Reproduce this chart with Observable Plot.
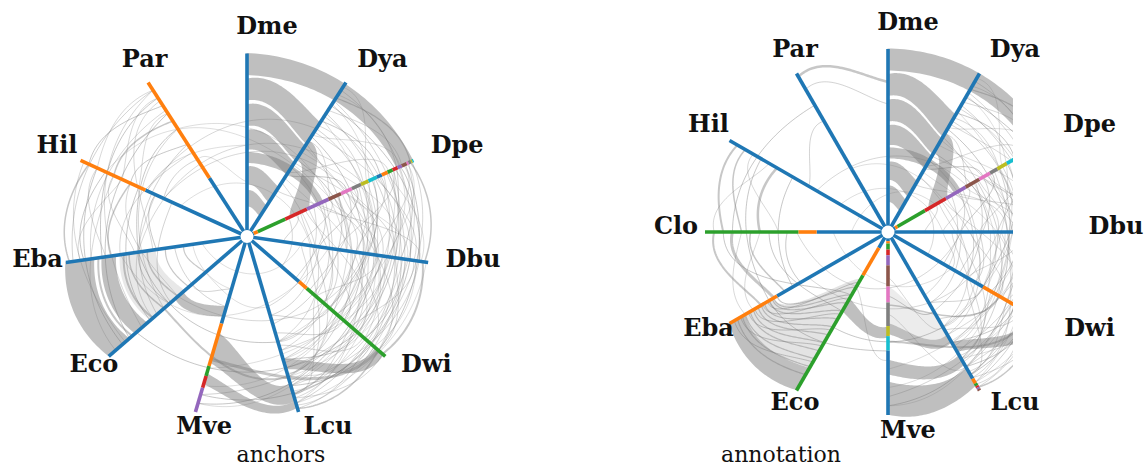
<!DOCTYPE html>
<html><head><meta charset="utf-8">
<script src="https://cdn.jsdelivr.net/npm/d3@7"></script>
<script src="https://cdn.jsdelivr.net/npm/@observablehq/plot@0.6"></script>
<style>
body{margin:0;background:#fff;}
#wrap{display:flex;width:1147px;height:470px;overflow:hidden;}
.panel{position:relative;}
.cap{font-family:"DejaVu Serif",serif;font-size:22px;line-height:24px;text-align:center;color:#111;}
</style></head><body><div id="wrap"></div>
<script>
const tab10 = ["#1f77b4","#ff7f0e","#2ca02c","#d62728","#9467bd","#8c564b","#e377c2","#7f7f7f","#bcbd22","#17becf"];

// axis order (clockwise from top)
const axesL = ["Dme","Dya","Dpe","Dbu","Dwi","Lcu","Mve","Eco","Eba","Hil","Par"];
const axesR = ["Dme","Dya","Dpe","Dbu","Dwi","Lcu","Mve","Eco","Eba","Clo","Hil","Par"];
const captions = ["anchors","annotation"];

// colour-segment boundaries along each axis (0 = hub, 1 = tip); colours cycle through tab10
const breaksL = [
  ["Dme",[0,1]], ["Dya",[0,1]],
  ["Dpe",[0,0.04,0.065,0.23,0.36,0.49,0.565,0.63,0.685,0.73,0.78,0.81,0.845,0.875,0.905,0.93,0.96,0.97,0.985,0.993,1]],
  ["Dbu",[0,1]], ["Dwi",[0,0.376,0.432,1]], ["Lcu",[0,1]],
  ["Mve",[0,0.495,0.737,0.794,0.861,1]],
  ["Eco",[0,1]], ["Eba",[0,1]], ["Hil",[0,0.61,1]], ["Par",[0,0.38,1]]
];
const breaksR = [
  ["Dme",[0,1]], ["Dya",[0,1]],
  ["Dpe",[0,0.045,0.06,0.233,0.366,0.49,0.576,0.644,0.69,0.75,0.8,0.83,0.86,0.89,0.915,0.94,0.96,0.975,0.988,0.995,1]],
  ["Dbu",[0,1]], ["Dwi",[0,0.6,1]],
  ["Lcu",[0,0.925,0.955,0.97,0.98,0.99,1]],
  ["Mve",[0,0.05,0.063,0.096,0.127,0.182,0.298,0.385,0.514,0.569,0.648,1]],
  ["Eco",[0,0.1,0.274,1]], ["Eba",[0,0.7,1]], ["Clo",[0,0.39,0.49,1]],
  ["Hil",[0,1]], ["Par",[0,1]]
];

// wide ribbons: [source axis, from, to, target axis, from, to, opacity]
const topRibbons = [
  ["Dme",0.88,1.0,"Dpe",0.9,1.0,0.5],["Dme",0.74,0.86,"Dya",0.6,0.74,0.5],
  ["Dme",0.6,0.72,"Dya",0.49,0.59,0.5],["Dme",0.47,0.58,"Dya",0.4,0.48,0.5],
  ["Dme",0.4,0.46,"Dpe",0.42,0.46,0.5],["Dya",0.5,0.62,"Dpe",0.26,0.38,0.5],
  ["Dme",0.28,0.38,"Dya",0.22,0.32,0.5],["Dme",0.16,0.25,"Dya",0.13,0.2,0.5]
];
const ribbonsL = [...topRibbons,
  ["Eba",0.84,1.0,"Eco",0.85,1.0,0.5],["Eba",0.72,0.8,"Eco",0.72,0.81,0.5],
  ["Mve",0.55,0.72,"Lcu",0.84,0.94,0.5],["Eco",0.46,0.52,"Mve",0.4,0.46,0.5],
  ["Mve",0.78,0.84,"Lcu",0.94,0.98,0.5],["Dwi",0.93,0.99,"Lcu",0.7,0.76,0.5],
  ["Eba",0.5,0.7,"Eco",0.45,0.7,0.18]
];
const ribbonsR = [...topRibbons,
  ["Eba",0.9,1.0,"Eco",0.86,1.0,0.5],["Mve",0.82,1.0,"Lcu",0.86,0.97,0.5],
  ["Mve",0.7,0.78,"Lcu",0.78,0.84,0.5],["Eco",0.42,0.5,"Mve",0.52,0.58,0.5],
  ["Mve",0.5,0.56,"Lcu",0.65,0.7,0.5],["Dwi",0.9,0.98,"Lcu",0.7,0.76,0.5],
  ["Eba",0.72,0.9,"Eco",0.3,0.86,0.22],["Mve",0.3,0.5,"Lcu",0.5,0.65,0.15]
];

// thin links: [source axis, position, target axis, position, weight]
const eastLinks = [
  ["Dya",0.9,"Dpe",0.98,1.2],["Dya",0.85,"Dbu",0.95,1],["Dya",0.8,"Dwi",0.9,0.8],
  ["Dya",0.75,"Dpe",0.8,1],["Dya",0.7,"Dbu",0.7,0.8],["Dya",0.65,"Dwi",0.7,1],
  ["Dya",0.6,"Lcu",0.8,0.8],["Dya",0.5,"Dbu",0.55,1],["Dya",0.45,"Dwi",0.5,0.8],
  ["Dya",0.4,"Dpe",0.6,1],["Dya",0.35,"Lcu",0.6,0.7],["Dpe",0.98,"Dbu",0.98,1.5],
  ["Dpe",0.95,"Dwi",0.95,1],["Dpe",0.92,"Dbu",0.85,1],["Dpe",0.88,"Lcu",0.95,0.8],
  ["Dpe",0.85,"Dwi",0.8,1],["Dpe",0.8,"Dbu",0.6,0.8],["Dpe",0.75,"Dwi",0.6,1],
  ["Dpe",0.7,"Lcu",0.7,0.8],["Dpe",0.65,"Dbu",0.4,1],["Dpe",0.6,"Dwi",0.45,0.8],
  ["Dpe",0.55,"Lcu",0.5,0.8],["Dpe",0.5,"Dbu",0.3,0.7],["Dpe",0.45,"Dwi",0.35,0.8],
  ["Dpe",0.4,"Lcu",0.4,0.7],["Dpe",0.3,"Dbu",0.2,0.8],["Dpe",0.25,"Dwi",0.25,0.7],
  ["Dbu",0.97,"Dwi",0.98,2],["Dbu",0.9,"Lcu",0.9,1],["Dbu",0.85,"Dwi",0.85,1],
  ["Dbu",0.8,"Lcu",0.75,0.8],["Dbu",0.7,"Dwi",0.65,1],["Dbu",0.6,"Lcu",0.6,0.8],
  ["Dbu",0.5,"Dwi",0.55,0.8],["Dbu",0.4,"Lcu",0.45,0.8],["Dbu",0.3,"Dwi",0.4,0.7],
  ["Dwi",0.95,"Lcu",0.98,1.5],["Dwi",0.9,"Lcu",0.85,1],["Dwi",0.8,"Lcu",0.7,1],
  ["Dwi",0.7,"Lcu",0.55,0.8],["Dwi",0.6,"Lcu",0.45,0.8],
  ["Dpe",0.9,"Mve",0.9,0.8],["Dbu",0.75,"Mve",0.95,1],["Dya",0.95,"Dbu",0.9,0.8],
  ["Dpe",0.97,"Lcu",0.9,0.7],["Dya",0.88,"Dwi",0.95,0.7],["Dpe",0.35,"Dwi",0.8,0.7],
  ["Dya",0.92,"Dpe",0.9,0.7],["Dya",0.82,"Dpe",0.93,0.7],["Dya",0.78,"Dbu",0.82,0.7],
  ["Dya",0.72,"Dpe",0.7,0.7],["Dya",0.68,"Dbu",0.9,0.7],["Dya",0.62,"Dpe",0.5,0.7],
  ["Dya",0.58,"Dwi",0.85,0.7],["Dya",0.48,"Dbu",0.75,0.7],["Dya",0.42,"Dpe",0.85,0.7],
  ["Dya",0.3,"Dbu",0.65,0.7],["Dpe",0.99,"Dwi",0.9,0.7],["Dpe",0.94,"Dbu",0.7,0.7],
  ["Dpe",0.86,"Dbu",0.5,0.7],["Dpe",0.82,"Lcu",0.85,0.7],["Dpe",0.78,"Dbu",0.92,0.7],
  ["Dpe",0.72,"Dwi",0.72,0.7],["Dpe",0.67,"Lcu",0.9,0.7],["Dpe",0.62,"Dbu",0.8,0.7],
  ["Dpe",0.57,"Dwi",0.95,0.7],["Dpe",0.52,"Dbu",0.6,0.7],["Dpe",0.47,"Lcu",0.65,0.7],
  ["Dpe",0.42,"Dbu",0.95,0.7],["Dpe",0.37,"Dwi",0.55,0.7],["Dpe",0.32,"Lcu",0.8,0.7],
  ["Dbu",0.95,"Lcu",0.85,0.7],["Dbu",0.92,"Dwi",0.75,0.7],["Dbu",0.88,"Lcu",0.98,0.7],
  ["Dbu",0.82,"Dwi",0.95,0.7],["Dbu",0.78,"Lcu",0.65,0.7],["Dbu",0.72,"Dwi",0.5,0.7],
  ["Dbu",0.66,"Lcu",0.92,0.7],["Dbu",0.62,"Dwi",0.88,0.7],["Dbu",0.56,"Lcu",0.72,0.7],
  ["Dbu",0.45,"Dwi",0.7,0.7],["Dbu",0.35,"Lcu",0.82,0.7],["Dwi",0.98,"Lcu",0.92,0.7],
  ["Dwi",0.88,"Lcu",0.96,0.7],["Dwi",0.84,"Lcu",0.62,0.7],["Dwi",0.75,"Lcu",0.88,0.7],
  ["Dwi",0.65,"Lcu",0.78,0.7],["Dwi",0.55,"Lcu",0.6,0.7],["Dwi",0.5,"Lcu",0.9,0.7],
  ["Dpe",0.88,"Mve",0.75,0.6],["Dbu",0.68,"Mve",0.85,0.6],["Dwi",0.78,"Mve",0.95,0.6],
  ["Dya",0.97,"Dpe",0.72,0.6],["Dya",0.86,"Dwi",0.6,0.6],["Dya",0.76,"Lcu",0.95,0.6],
  ["Dya",0.66,"Dpe",0.92,0.6],["Dya",0.55,"Dbu",0.85,0.6],["Dya",0.38,"Dwi",0.75,0.6],
  ["Dpe",0.96,"Dbu",0.78,0.6],["Dpe",0.91,"Dwi",0.68,0.6],["Dpe",0.84,"Dbu",0.96,0.6],
  ["Dpe",0.76,"Lcu",0.6,0.6],["Dpe",0.69,"Dbu",0.66,0.6],["Dpe",0.64,"Dwi",0.82,0.6],
  ["Dpe",0.59,"Dbu",0.88,0.6],["Dpe",0.54,"Dwi",0.62,0.6],["Dpe",0.49,"Dbu",0.72,0.6],
  ["Dbu",0.99,"Lcu",0.95,0.6],["Dbu",0.93,"Dwi",0.92,0.6],["Dbu",0.86,"Lcu",0.8,0.6],
  ["Dbu",0.76,"Dwi",0.8,0.6],["Dbu",0.64,"Lcu",0.7,0.6],["Dwi",0.92,"Lcu",0.8,0.6]
];
const westLinksL = [
  ["Mve",0.7,"Dwi",0.95,3],["Eco",0.6,"Lcu",0.8,2],["Eba",0.6,"Lcu",0.6,1],
  ["Eco",0.8,"Dwi",0.8,1],["Mve",0.9,"Dwi",0.9,1],
  ["Eba",0.82,"Eco",0.83,2],["Eba",0.68,"Eco",0.68,2],
  ["Eba",0.65,"Eco",0.6,1.5],["Eba",0.55,"Eco",0.5,1.5],["Eba",0.6,"Eco",0.56,1],
  ["Eba",0.45,"Eco",0.42,1.2],["Eba",0.35,"Eco",0.3,1.2],["Eba",0.98,"Hil",0.95,1.5],
  ["Eba",0.9,"Hil",0.85,1],["Eba",0.8,"Par",0.9,1],["Eba",0.75,"Hil",0.7,1.5],
  ["Eba",0.6,"Par",0.7,1],["Eba",0.5,"Hil",0.55,1],["Eco",0.9,"Hil",0.9,1],
  ["Eco",0.85,"Par",0.8,1],["Eco",0.7,"Hil",0.65,1],["Eco",0.65,"Par",0.6,0.8],
  ["Eco",0.55,"Hil",0.45,0.8],["Hil",0.95,"Par",0.85,1],["Hil",0.8,"Par",0.75,1.5],
  ["Hil",0.7,"Par",0.6,1],["Hil",0.5,"Par",0.5,0.8],["Eba",0.4,"Mve",0.4,0.8],
  ["Eco",0.4,"Mve",0.3,0.8],["Hil",0.6,"Dme",0.5,0.6],["Par",0.5,"Dme",0.3,0.6],
  ["Hil",0.85,"Dpe",0.5,0.6],["Eba",0.7,"Dbu",0.45,0.6],["Dya",0.7,"Hil",0.6,0.7],
  ["Dpe",0.6,"Hil",0.5,0.7],["Dbu",0.55,"Par",0.7,0.6],["Dbu",0.65,"Eco",0.5,0.7],
  ["Dpe",0.7,"Eba",0.6,0.7],["Eba",0.96,"Par",0.95,0.8],["Eba",0.92,"Hil",0.75,0.7],
  ["Eba",0.86,"Par",0.82,0.7],["Eba",0.78,"Hil",0.9,0.7],["Eba",0.7,"Par",0.55,0.7],
  ["Eba",0.62,"Hil",0.8,0.7],["Eba",0.52,"Par",0.88,0.7],["Eco",0.95,"Hil",0.8,0.7],
  ["Eco",0.88,"Hil",0.98,0.7],["Eco",0.76,"Par",0.95,0.7],["Eco",0.68,"Hil",0.55,0.7],
  ["Eco",0.6,"Par",0.7,0.7],["Eco",0.5,"Hil",0.7,0.7],["Hil",0.9,"Par",0.95,0.7],
  ["Hil",0.75,"Par",0.9,0.7],["Hil",0.65,"Par",0.8,0.7],["Eba",0.3,"Mve",0.3,0.6],
  ["Eco",0.3,"Lcu",0.4,0.6],["Eba",0.25,"Dbu",0.3,0.6],["Hil",0.4,"Dbu",0.35,0.6]
];
const westLinksR = [
  ["Par",0.98,"Dme",0.82,2.5],["Par",0.9,"Dme",0.7,0.8],
  ["Hil",0.95,"Clo",0.9,2],["Hil",0.9,"Clo",0.8,1.5],["Hil",0.8,"Eba",0.75,1],
  ["Hil",0.7,"Clo",0.7,2.5],["Hil",0.6,"Eba",0.6,1],["Par",0.8,"Clo",0.85,1],
  ["Par",0.7,"Hil",0.5,0.8],["Clo",0.95,"Eba",0.8,2],["Clo",0.85,"Eba",0.72,3],
  ["Clo",0.75,"Eba",0.65,1.5],["Clo",0.65,"Eco",0.5,1],["Clo",0.55,"Eba",0.55,1],
  ["Clo",0.9,"Eco",0.4,1],
  ["Eba",0.95,"Eco",0.9,1.2],["Eba",0.92,"Eco",0.85,1.2],["Eba",0.9,"Eco",0.8,1.2],
  ["Eba",0.87,"Eco",0.75,1.2],["Eba",0.85,"Eco",0.7,1.2],["Eba",0.82,"Eco",0.65,1.2],
  ["Eba",0.8,"Eco",0.6,1.2],["Eba",0.78,"Eco",0.55,1.2],["Eba",0.75,"Eco",0.5,1.2],
  ["Eba",0.73,"Eco",0.45,1.2],["Eba",0.72,"Eco",0.4,1.2],["Eba",0.7,"Eco",0.35,1.2],
  ["Eba",0.97,"Eco",0.82,1],["Eba",0.93,"Eco",0.72,1],["Eba",0.88,"Eco",0.62,1],
  ["Eba",0.84,"Eco",0.52,1],["Eba",0.79,"Eco",0.42,1],["Eba",0.76,"Eco",0.32,1],
  ["Mve",0.6,"Dwi",0.9,2],["Mve",0.4,"Dwi",0.7,1.5],
  ["Eba",0.75,"Mve",0.65,1],["Eco",0.6,"Lcu",0.6,1],
  ["Mve",0.35,"Lcu",0.5,1],["Clo",0.5,"Dbu",0.4,0.7],["Hil",0.45,"Dpe",0.5,0.7],
  ["Eba",0.5,"Dbu",0.6,0.7],["Clo",0.3,"Dwi",0.4,0.6],["Hil",0.3,"Dbu",0.3,0.6],
  ["Par",0.4,"Dpe",0.35,0.6],["Clo",0.2,"Dpe",0.3,0.6],["Hil",0.85,"Clo",0.6,0.7],
  ["Hil",0.75,"Clo",0.95,0.7],["Clo",0.8,"Eba",0.9,0.7],["Clo",0.7,"Eba",0.85,0.7],
  ["Mve",0.25,"Lcu",0.6,0.7],["Mve",0.45,"Lcu",0.85,0.7],["Eco",0.35,"Mve",0.7,0.7]
];
const linksL = [...eastLinks, ...westLinksL];
const linksR = [...eastLinks, ...westLinksR];

const unit = 183;          // pixels per unit radius
const labelR = 204/unit;

function angleOf(axes, name) { return (90 - axes.indexOf(name) * 360 / axes.length) * Math.PI / 180; }
function polar(r, a) { return [r * Math.cos(a), r * Math.sin(a)]; }
const N = 48;
function curve(axes, s, r1, t, r2) {
  const a1 = angleOf(axes, s), a2 = angleOf(axes, t);
  let d = a2 - a1;
  while (d > Math.PI) d -= 2 * Math.PI;
  while (d <= -Math.PI) d += 2 * Math.PI;
  const k = 1.06;
  const P0 = polar(r1, a1), P1 = polar(r1 * k, a1 + d / 3),
        P2 = polar(r2 * k, a2 - d / 3), P3 = polar(r2, a2);
  const out = [];
  for (let i = 0; i <= N; i++) {
    const u = i / N, v = 1 - u;
    const b0 = v*v*v, b1 = 3*v*v*u, b2 = 3*v*u*u, b3 = u*u*u;
    out.push([b0*P0[0] + b1*P1[0] + b2*P2[0] + b3*P3[0], b0*P0[1] + b1*P1[1] + b2*P2[1] + b3*P3[1]]);
  }
  return out;
}
function linkPoints(axes, links) {
  const pts = [];
  links.forEach(([s, r1, t, r2, w], id) => {
    curve(axes, s, r1, t, r2).forEach(([x, y]) => pts.push({id, w, x, y}));
  });
  return pts;
}
function ribbonPoints(axes, ribbons) {
  const pts = [];
  ribbons.forEach(([s, a, b, t, c, e, o], id) => {
    const A = curve(axes, s, a, t, c), B = curve(axes, s, b, t, e);
    A.forEach((p, i) => pts.push({id, o, x1: p[0], y1: p[1], x2: B[i][0], y2: B[i][1]}));
  });
  return pts;
}
function segments(axes, breaks) {
  const segs = [];
  breaks.forEach(([name, b]) => {
    const a = angleOf(axes, name);
    for (let i = 0; i < b.length - 1; i++) {
      const [x1, y1] = polar(b[i], a), [x2, y2] = polar(b[i+1], a);
      segs.push({x1, y1, x2, y2, color: tab10[i % 10]});
    }
  });
  return segs;
}
function labels(axes) {
  return axes.map(name => {
    const a = angleOf(axes, name), c = Math.cos(a);
    const eps = 20 + 16*c - 12*c*c;
    return {name, x: labelR*Math.cos(a) + eps/unit, y: labelR*Math.sin(a) + 6/unit};
  });
}

function panel(axes, breaks, ribbons, links, W, H, cx, cy, clipRight) {
  const clip = clipRight != null;
  const mr = clip ? W - clipRight : 0;
  return Plot.plot({
    width: W, height: H, marginTop: 0, marginLeft: 0, marginBottom: 0, marginRight: mr,
    x: {domain: [-cx/unit, ((clip ? clipRight : W) - cx)/unit], axis: null},
    y: {domain: [(cy - H)/unit, cy/unit], axis: null},
    color: {type: "identity"},
    opacity: {type: "identity"},
    marks: [
      Plot.area(ribbonPoints(axes, ribbons), {x1: "x1", y1: "y1", x2: "x2", y2: "y2", z: "id",
        fill: "#808080", fillOpacity: "o", clip}),
      Plot.line(linkPoints(axes, links), {x: "x", y: "y", z: "id", stroke: "#7a7a7a",
        strokeOpacity: 0.42, strokeWidth: "w", strokeLinecap: "butt", clip}),
      Plot.link(segments(axes, breaks), {x1: "x1", y1: "y1", x2: "x2", y2: "y2",
        stroke: "color", strokeWidth: 3.6, strokeLinecap: "butt", clip}),
      Plot.dot([{r: 0}], {x: d => polar(d.r, 0)[0], y: d => polar(d.r, 0)[1], r: 6.5, fill: "white", stroke: "none"}),
      Plot.text(labels(axes), {x: "x", y: "y", text: "name", fontSize: 24, fontWeight: "bold",
        fontFamily: "DejaVu Serif", fill: "#111", textAnchor: "middle", lineAnchor: "middle"})
    ]
  });
}

const wrap = document.getElementById("wrap");
const specs = [
  {axes: axesL, breaks: breaksL, ribbons: ribbonsL, links: linksL, W: 573, cx: 246.5, cy: 236, clipRight: null, pad: 11},
  {axes: axesR, breaks: breaksR, ribbons: ribbonsR, links: linksR, W: 574, cx: 314.5, cy: 231.5, clipRight: 440, pad: 158}
];
specs.forEach((s, i) => {
  const div = document.createElement("div");
  div.className = "panel";
  div.style.width = s.W + "px";
  div.appendChild(panel(s.axes, s.breaks, s.ribbons, s.links, s.W, 443, s.cx, s.cy, s.clipRight));
  const cap = document.createElement("div");
  cap.className = "cap";
  cap.style.paddingRight = s.pad + "px";
  cap.textContent = captions[i];
  div.appendChild(cap);
  wrap.appendChild(div);
});
</script></body></html>
